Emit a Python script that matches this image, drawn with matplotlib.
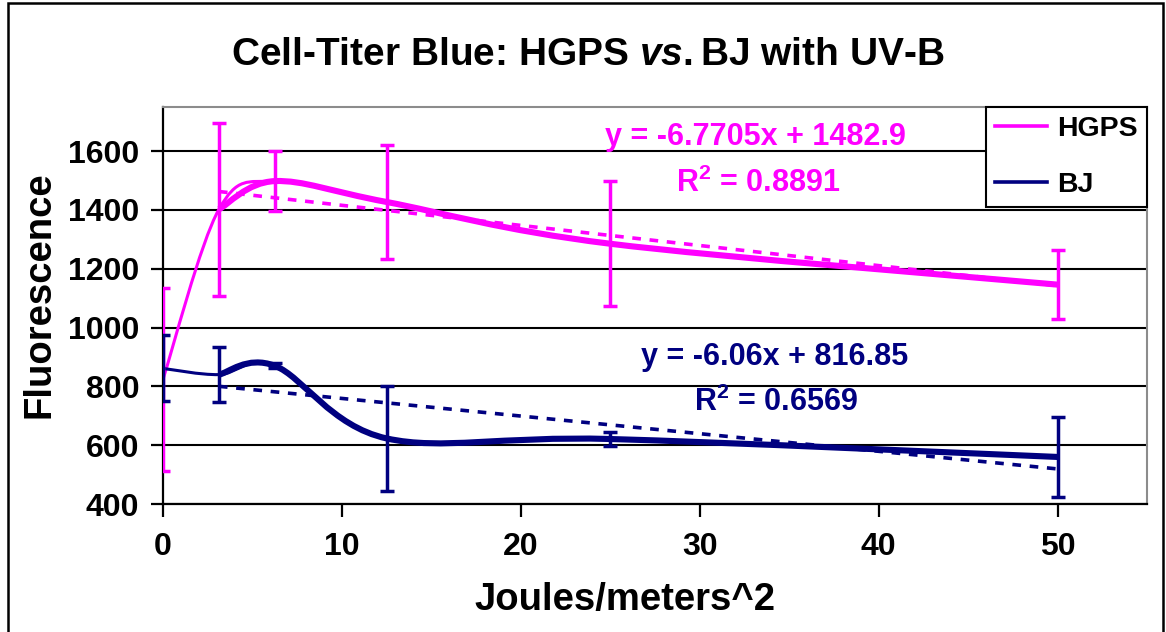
import numpy as np
import matplotlib
matplotlib.use("Agg")
from matplotlib import pyplot as plt
from matplotlib.path import Path
from matplotlib.patches import PathPatch, Rectangle
from matplotlib.lines import Line2D

plt.rcParams['font.family'] = ['Liberation Sans', 'DejaVu Sans']
plt.rcParams['font.weight'] = 'bold'
plt.rcParams['mathtext.fontset'] = 'custom'
plt.rcParams['mathtext.rm'] = 'Liberation Sans:bold'
plt.rcParams['mathtext.it'] = 'Liberation Sans:italic:bold'
plt.rcParams['mathtext.bf'] = 'Liberation Sans:bold'

# dose (J/m^2)
dose = [0, 3.125, 6.25, 12.5, 25, 50]

hgps = [824, 1402, 1498, 1427, 1285, 1146]
hgps_err = [312, 293, 102, 194, 212, 117]

bj = [861, 840, 870, 623, 621, 560]
bj_err = [112, 93, 8, 178, 24, 136]

hgps_eq = "y = -6.7705x + 1482.9"
hgps_r2 = "R$^2$ = 0.8891"
bj_eq = "y = -6.06x + 816.85"
bj_r2 = "R$^2$ = 0.6569"

MAGENTA = "#FF00FF"
NAVY = "#000080"
H = 632


# Excel-like smoothed line: cubic bezier through the points (Catmull-Rom control points)
def smooth_path(xs, ys):
    pts = np.column_stack([xs, ys]).astype(float)
    n = len(pts)
    verts = [pts[0]]
    codes = [Path.MOVETO]
    for i in range(n - 1):
        p0 = pts[i - 1] if i > 0 else pts[i]
        p1 = pts[i]
        p2 = pts[i + 1]
        p3 = pts[i + 2] if i + 2 < n else pts[i + 1]
        c1 = p1 + (p2 - p0) / 6.0
        c2 = p2 - (p3 - p1) / 6.0
        verts += [c1, c2, p2]
        codes += [Path.CURVE4, Path.CURVE4, Path.CURVE4]
    return Path(verts, codes)


fig = plt.figure(figsize=(11.66, 6.32), dpi=100)
ax = fig.add_axes([163 / 1166, 1 - 504 / H, (1147 - 163) / 1166, (504 - 107) / H])

for ys, err, col in [(hgps, hgps_err, MAGENTA), (bj, bj_err, NAVY)]:
    # thin series over all doses
    ax.add_patch(PathPatch(smooth_path(dose, ys), fill=False, edgecolor=col,
                           lw=2.2, capstyle='round', joinstyle='round', zorder=3))
    # thick series from the first exposure on
    ax.add_patch(PathPatch(smooth_path(dose[1:], ys[1:]), fill=False, edgecolor=col,
                           lw=4.4, capstyle='butt', joinstyle='round', zorder=4))
    # linear trend (exposed doses only)
    k, b = np.polyfit(dose[1:], ys[1:], 1)
    xt = np.array([dose[1], dose[-1]])
    ax.plot(xt, k * xt + b, color=col, lw=2.6, dashes=(2.4, 2.4), zorder=2)
    ax.errorbar(dose, ys, yerr=err, fmt='none', ecolor=col, elinewidth=2.5,
                capsize=4.8, capthick=2.5, zorder=5)

ax.set_xlim(0, 55)
ax.set_ylim(400, 1750)
ax.set_xticks([0, 10, 20, 30, 40, 50])
ax.set_yticks([400, 600, 800, 1000, 1200, 1400, 1600])
ax.tick_params(axis='both', direction='out', length=9, width=1.6, labelsize=23, pad=8)
ax.tick_params(axis='x', pad=11)
for lab in ax.get_xticklabels() + ax.get_yticklabels():
    lab.set_fontweight('bold')
ax.yaxis.grid(True, color='black', lw=1.5)
ax.set_axisbelow(True)
ax.spines['left'].set_linewidth(1.6)
ax.spines['bottom'].set_linewidth(1.6)
ax.spines['top'].set_color('#8c8c8c')
ax.spines['right'].set_color('#8c8c8c')
ax.spines['top'].set_linewidth(1.5)
ax.spines['right'].set_linewidth(1.5)

ax.set_xlabel("Joules/meters^2", fontsize=27.5, fontweight='bold')
ax.set_ylabel("Fluorescence", fontsize=27.5, fontweight='bold')
ax.xaxis.set_label_coords((625 - 163) / 984, (504 - 600) / 397)
ax.yaxis.set_label_coords((40 - 163) / 984, (504 - 295) / 397)
ax.xaxis.label.set_va('center')
ax.yaxis.label.set_va('center')

fig.text(588 / 1166, 1 - 55 / H, r"Cell-Titer Blue: HGPS $\mathit{vs.}$BJ with UV-B",
         ha='center', va='center', fontsize=28, fontweight='bold')

ax.text(755, H - 137, hgps_eq, transform=None, color=MAGENTA, fontsize=22,
        fontweight='bold', ha='center', va='center')
ax.text(758, H - 183, hgps_r2, transform=None, color=MAGENTA, fontsize=22,
        fontweight='bold', ha='center', va='center')
ax.text(775, H - 357, bj_eq, transform=None, color=NAVY, fontsize=22,
        fontweight='bold', ha='center', va='center')
ax.text(776, H - 402, bj_r2, transform=None, color=NAVY, fontsize=22,
        fontweight='bold', ha='center', va='center')

handles = [Line2D([], [], color=MAGENTA, lw=2.6), Line2D([], [], color=NAVY, lw=2.6)]
leg = ax.legend(handles, ["HGPS", "BJ"], loc='upper right', bbox_to_anchor=(1.0, 1.0),
                borderaxespad=0, fancybox=False, edgecolor='black', framealpha=1,
                prop={'weight': 'bold', 'size': 20.5}, handlelength=1.85,
                handletextpad=0.35, borderpad=0.32, labelspacing=1.05,
                handleheight=0.7)
leg.get_frame().set_linewidth(1.5)
leg.set_zorder(10)

# outer chart border
fig.patches.append(Rectangle((8 / 1166, -0.01), (1163 - 8) / 1166, 1.0 - 3 / H + 0.01,
                             transform=fig.transFigure, fill=False,
                             edgecolor='black', lw=1.8))

fig.savefig("out.png", dpi=100)
